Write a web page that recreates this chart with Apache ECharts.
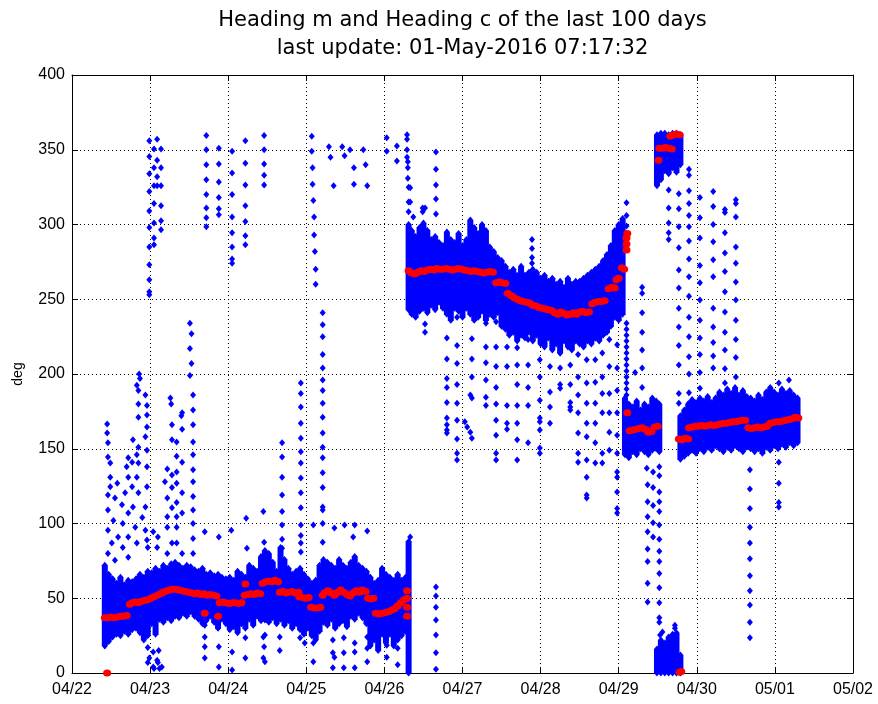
<!DOCTYPE html>
<html>
<head>
<meta charset="utf-8">
<script src="https://cdn.jsdelivr.net/npm/echarts@6/dist/echarts.min.js"></script>
<style>
  html, body { margin: 0; padding: 0; background: #fff; }
  #main { width: 878px; height: 704px; }
</style>
</head>
<body>
<div id="main"></div>
<script>
// Time axis: days since 04/22 00:00, one tick per day.
const tickLabels = ['04/22', '04/23', '04/24', '04/25', '04/26', '04/27', '04/28', '04/29', '04/30', '05/01', '05/02'];

// Heading m, dense stretches: for each time sample the lowest and highest reading (deg).
const mBandDay = [
  0.42, 0.47, 0.52, 0.57, 0.62, 0.67, 0.72, 0.77, 0.82, 0.87, 0.92, 0.97, 1.02, 1.07, 1.12, 1.17, 1.22, 1.27, 1.32, 1.37,
  1.42, 1.47, 1.52, 1.57, 1.62, 1.67, 1.72, 1.77, 1.82, 1.87, 1.92, 1.97, 2.02, 2.07, 2.12, 2.17, 2.22, 2.27, 2.32, 2.37,
  2.42, 2.47, 2.52, 2.57, 2.62, 2.67, 2.72, 2.77, 2.82, 2.87, 2.92, 2.97, 3.02, 3.07, 3.12, 3.17, 3.22, 3.27, 3.32, 3.37,
  3.42, 3.47, 3.52, 3.57, 3.62, 3.67, 3.72, 3.77, 3.82, 3.87, 3.92, 3.97, 4.02, 4.07, 4.12, 4.17, 4.22, 4.27, 4.31,
  4.31, 4.35, 4.40, 4.45, 4.50, 4.55, 4.60, 4.65, 4.70, 4.75, 4.80, 4.85, 4.90, 4.95, 5.00, 5.05, 5.10, 5.15, 5.20, 5.25,
  5.30, 5.35, 5.40, 5.45, 5.50, 5.55, 5.60, 5.65, 5.70, 5.75, 5.80, 5.85, 5.90, 5.95, 6.00, 6.05, 6.10, 6.15, 6.20, 6.25,
  6.30, 6.35, 6.40, 6.45, 6.50, 6.55, 6.60, 6.65, 6.70, 6.75, 6.80, 6.85, 6.90, 6.95, 7.00, 7.05,
  7.08, 7.13, 7.18, 7.23, 7.28, 7.33, 7.38, 7.43, 7.48, 7.52,
  7.49, 7.54, 7.59, 7.64, 7.69, 7.74, 7.79,
  7.49, 7.54, 7.59, 7.64, 7.69, 7.74, 7.79,
  7.79, 7.84, 7.89, 7.94, 7.99, 8.04, 8.09, 8.14, 8.19, 8.24, 8.29, 8.34, 8.39, 8.44, 8.49, 8.54, 8.59, 8.64, 8.69, 8.74,
  8.79, 8.84, 8.89, 8.94, 8.99, 9.04, 9.09, 9.14, 9.19, 9.24, 9.29
];
const mBandLo = [
  18, 21, 24, 26, 25, 28, 26, 29, 30, 27, 22, 25, 33, 26, 36, 34, 37, 35, 38, 37,
  40, 38, 41, 38, 36, 33, 35, 38, 34, 30, 36, 33, 29, 31, 27, 33, 30, 36, 32, 38,
  35, 38, 34, 37, 33, 36, 32, 35, 30, 33, 29, 26, 30, 25, 22, 28, 34, 32, 36, 30,
  33, 35, 31, 38, 36, 40, 37, 33, 18, 22, 15, 26, 20, 26, 18, 22, 25, 28, 0,
  243, 240, 238, 242, 244, 241, 246, 243, 248, 244, 240, 236, 244, 242, 238, 244, 240, 236, 238, 242,
  236, 240, 238, 241, 232, 230, 226, 228, 222, 226, 224, 228, 222, 226, 220, 218, 224, 216, 220, 214,
  222, 218, 216, 222, 220, 218, 222, 220, 224, 222, 226, 228, 232, 238, 236, 240,
  146, 144, 148, 146, 150, 148, 146, 149, 150, 148,
  326, 330, 336, 334, 338, 335, 340,
  0, 0, 0, 0, 0, 0, 0,
  143, 145, 147, 149, 147, 150, 148, 151, 149, 152, 150, 148, 151, 149, 152, 150, 148, 151, 150, 148,
  150, 147, 151, 149, 152, 150, 153, 151, 154, 152, 154
];
const mBandHi = [
  72, 66, 63, 60, 64, 59, 62, 61, 63, 66, 64, 68, 67, 70, 68, 72, 70, 73, 74, 72,
  70, 72, 71, 69, 68, 70, 66, 67, 65, 66, 64, 63, 64, 62, 68, 66, 64, 72, 70, 68,
  78, 82, 80, 74, 68, 84, 76, 70, 66, 68, 70, 66, 63, 60, 62, 72, 76, 74, 72, 70,
  76, 72, 70, 74, 78, 72, 70, 68, 64, 60, 62, 70, 66, 64, 62, 66, 62, 64, 88,
  300, 296, 292, 298, 301, 296, 290, 292, 288, 286, 295, 290, 288, 294, 286, 290, 303, 298, 294, 300,
  296, 285, 282, 278, 276, 272, 268, 270, 266, 272, 266, 268, 270, 268, 264, 266, 262, 264, 260, 262,
  258, 264, 260, 262, 262, 264, 266, 268, 270, 272, 276, 280, 286, 296, 300, 304,
  184, 180, 178, 182, 176, 180, 178, 184, 182, 180,
  360, 361, 361, 360, 361, 361, 360,
  16, 22, 20, 24, 26, 27, 12,
  172, 176, 180, 183, 181, 184, 182, 185, 181, 184, 188, 186, 190, 187, 191, 186, 189, 185, 184, 182,
  186, 183, 188, 191, 188, 186, 190, 187, 189, 186, 184
];

// Heading m, isolated readings [day, deg]: high readings of the first days.
const mHighEarly = [
  [0.99, 356], [0.99, 345.5], [0.99, 334], [0.99, 322], [0.99, 309], [0.99, 298], [0.99, 285], [0.99, 273], [0.99, 263], [0.99, 255], [0.99, 253],
  [1.05, 350.5], [1.05, 338], [1.05, 326], [1.05, 314], [1.05, 301], [1.05, 291], [1.05, 286.5],
  [1.09, 357], [1.09, 343], [1.09, 332], [1.09, 326],
  [1.14, 350.5], [1.14, 338], [1.14, 326], [1.14, 312.5], [1.14, 302.5], [1.14, 296.5],
  [1.72, 359.5], [1.72, 350], [1.72, 340], [1.72, 330], [1.72, 320], [1.72, 311], [1.72, 304.5], [1.72, 298.5],
  [1.88, 351], [1.88, 340.5], [1.88, 328.5], [1.88, 318], [1.88, 310.5], [1.88, 306.5],
  [2.05, 349], [2.05, 334.5], [2.05, 320], [2.05, 305], [2.05, 294.5], [2.05, 285], [2.05, 277], [2.05, 274],
  [2.22, 356], [2.22, 341], [2.22, 326.5], [2.22, 312.5], [2.22, 302], [2.22, 292.5], [2.22, 286.5],
  [2.46, 359.5], [2.46, 350], [2.46, 340.5], [2.46, 333], [2.46, 326.5]
];

// Heading m, scattered readings between 75 and 240 deg in the first days.
const mSpreadEarly = [
  [0.86, 200], [0.87, 197], [0.83, 192.5], [0.85, 189], [0.94, 186], [0.85, 180], [0.96, 179], [0.85, 171], [0.96, 172.5],
  [0.45, 166.5], [0.96, 164.5], [0.45, 160.5], [0.78, 156], [0.94, 158], [0.46, 154], [0.85, 151], [0.96, 149],
  [0.72, 144], [0.77, 141], [0.83, 146], [0.46, 144.5], [0.49, 140.5], [0.70, 138], [0.85, 140.5], [0.96, 138],
  [0.49, 131], [0.72, 131], [0.83, 131], [0.58, 127], [0.49, 124.5], [0.77, 124.5], [0.96, 124.5], [0.46, 119],
  [0.55, 117], [0.68, 120.5], [0.85, 120.5], [0.64, 112.5], [0.78, 111], [0.94, 111], [0.46, 109], [0.72, 107],
  [0.90, 104], [0.53, 102], [0.65, 100], [0.81, 97.5], [0.46, 95.5], [0.59, 91], [0.72, 91], [0.94, 95.5],
  [0.51, 87], [0.65, 84], [0.83, 87], [0.96, 89], [0.46, 80], [0.72, 77.5], [0.55, 75.5],
  [1.04, 94.5], [1.10, 91], [0.97, 84], [1.09, 84], [1.26, 184], [1.27, 180], [1.41, 174], [1.40, 172],
  [1.28, 166], [1.41, 163], [1.28, 156], [1.34, 154.5], [1.34, 145], [1.41, 141], [1.22, 136.5], [1.28, 132.5],
  [1.34, 134.5], [1.19, 128], [1.34, 127], [1.28, 124], [1.41, 120.5], [1.22, 117], [1.34, 114], [1.28, 110.5],
  [1.22, 104.5], [1.34, 104.5], [1.41, 107], [1.22, 97.5], [1.34, 97.5], [1.28, 87], [1.34, 87], [1.22, 80], [1.41, 80],
  [1.51, 234], [1.53, 227], [1.51, 217], [1.53, 207], [1.51, 199],
  [1.55, 186], [1.55, 176], [1.55, 166], [1.55, 154.5], [1.55, 146], [1.55, 136], [1.55, 128], [1.55, 118],
  [1.55, 109], [1.55, 100], [1.55, 90], [1.55, 80],
  [1.70, 94.5], [1.88, 91], [2.04, 95.5], [2.23, 103.5], [2.24, 83.5], [2.45, 108], [2.46, 87.5],
  [2.69, 154], [2.69, 144.5], [2.69, 131], [2.69, 119], [2.69, 108], [2.69, 99], [2.69, 89.5], [2.69, 83.5],
  [2.93, 194], [2.93, 187], [2.93, 178], [2.93, 167], [2.93, 157], [2.93, 148], [2.93, 140.5], [2.93, 130.5],
  [2.93, 120.5], [2.93, 110.5], [2.93, 99], [2.93, 92], [2.93, 87], [2.93, 81],
  [3.21, 241], [3.21, 233], [3.21, 225], [3.21, 213], [3.21, 204],
  [3.21, 196], [3.21, 189], [3.21, 180.5], [3.21, 171], [3.21, 160.5], [3.21, 151], [3.21, 144], [3.21, 134],
  [3.21, 124], [3.21, 111], [3.21, 109], [3.21, 100], [3.21, 87.5],
  [3.09, 99], [3.36, 97], [3.49, 99], [3.62, 99], [3.78, 95], [3.60, 91], [4.33, 91]
];

// Heading m, high readings from 04/25 to 04/26.
const mHighMid = [
  [3.07, 359], [3.07, 349], [3.08, 338], [3.08, 327], [3.09, 316], [3.10, 305], [3.10, 293], [3.11, 282], [3.12, 270], [3.12, 260],
  [3.29, 352], [3.31, 345], [3.35, 326], [3.46, 352], [3.49, 346], [3.56, 350], [3.61, 338], [3.61, 327],
  [3.73, 350], [3.76, 340], [3.78, 326], [4.03, 358], [4.03, 349], [4.16, 352.5], [4.16, 342.5]
];

// Heading m, readings near 0 deg.
const mLow = [
  [0.97, 17], [1.04, 14], [1.11, 15], [0.99, 10], [1.09, 8.5], [1.04, 4], [1.15, 4], [0.97, 7], [1.10, 7], [1.05, 3], [1.12, 3],
  [1.70, 32], [1.70, 24], [1.70, 17.5], [1.70, 10], [1.88, 17.5], [1.88, 4], [2.05, 14], [2.05, 2],
  [2.22, 23.5], [2.22, 10], [2.45, 24], [2.45, 10], [2.46, 17.5], [2.47, 7.5], [2.47, 35.5], [2.47, 25.5],
  [2.66, 24], [2.66, 15], [2.92, 23.5], [2.98, 20], [3.09, 20], [3.09, 7.5],
  [3.34, 22], [3.34, 13.5], [3.34, 3.5], [3.36, 10.5], [3.48, 23.5], [3.48, 13.5], [3.48, 3.5],
  [3.62, 20], [3.62, 14], [3.62, 3.5], [3.78, 24], [3.78, 16.5], [3.78, 7.5],
  [4.03, 18.5], [4.03, 10.5], [4.17, 16.5], [4.17, 5.5],
  [4.66, 57.5], [4.66, 51.5], [4.66, 44], [4.66, 35.5], [4.66, 25.5], [4.66, 13.5], [4.66, 2.5]
];

// Heading m, readings around the 270 deg stretch (04/26 - 04/29).
const mAround270 = [
  [4.29, 360], [4.29, 357], [4.29, 350], [4.29, 345], [4.30, 342], [4.30, 338], [4.30, 331], [4.31, 325], [4.31, 315], [4.31, 308.5],
  [4.33, 324.5], [4.33, 315], [4.37, 305], [4.49, 311], [4.49, 308.5], [4.52, 311],
  [4.66, 348.5], [4.66, 337], [4.66, 326.5], [4.66, 317], [4.66, 307],
  [4.52, 233.5], [4.52, 228],
  [4.80, 224], [4.80, 210], [4.80, 197], [4.80, 191], [4.80, 181], [4.80, 170.5], [4.80, 166], [4.80, 162.5], [4.80, 160.5],
  [4.93, 238], [4.93, 219], [4.93, 207], [4.93, 193], [4.93, 180.5], [4.93, 169], [4.93, 156.5], [4.93, 147], [4.93, 142.5],
  [5.03, 168], [5.06, 164.5], [5.10, 161], [5.10, 186], [5.12, 184], [5.12, 223.5], [5.12, 210], [5.12, 198], [5.12, 157],
  [5.30, 234], [5.30, 218], [5.30, 207.5], [5.30, 196], [5.30, 184.5], [5.30, 179],
  [5.43, 235], [5.43, 218], [5.43, 205], [5.43, 191], [5.43, 180], [5.43, 169], [5.43, 159], [5.43, 147], [5.43, 142.5],
  [5.57, 218], [5.57, 205], [5.57, 179], [5.57, 167], [5.57, 163],
  [5.70, 217.5], [5.70, 206], [5.70, 193], [5.70, 179], [5.70, 167], [5.70, 156], [5.70, 142.5],
  [5.84, 223], [5.84, 206], [5.84, 191], [5.84, 179], [5.84, 154],
  [5.89, 290], [5.89, 284], [5.89, 278], [5.89, 274],
  [5.99, 209.5], [5.99, 198], [5.99, 182.5], [5.99, 170.5], [5.99, 168], [5.99, 162.5], [5.99, 150.5], [5.99, 147],
  [6.12, 205], [6.12, 188], [6.12, 178], [6.12, 167],
  [6.25, 214], [6.25, 204], [6.25, 193], [6.25, 190.5],
  [6.38, 206], [6.38, 193], [6.38, 181], [6.38, 178], [6.38, 176],
  [6.48, 213], [6.48, 198], [6.48, 186], [6.48, 174], [6.48, 160.5], [6.48, 147], [6.48, 141],
  [6.59, 209.5], [6.59, 194], [6.59, 180.5], [6.59, 167], [6.59, 158], [6.59, 142.5], [6.59, 131], [6.59, 119], [6.59, 117],
  [6.70, 224], [6.70, 209.5], [6.70, 194.5], [6.70, 180.5], [6.70, 167], [6.70, 154], [6.70, 140.5],
  [6.79, 227.5], [6.79, 214], [6.79, 198], [6.79, 187], [6.79, 174], [6.79, 147], [6.79, 140.5],
  [6.88, 236], [6.88, 223], [6.88, 205], [6.88, 187], [6.88, 174], [6.88, 161], [6.88, 149],
  [6.98, 219.5], [6.98, 204], [6.98, 189], [6.98, 174], [6.98, 159], [6.98, 147], [6.98, 134.5], [6.98, 131],
  [6.98, 121], [6.98, 110], [6.98, 107],
  [7.10, 314.5], [7.10, 306], [7.10, 299],
  [7.10, 234], [7.10, 230], [7.10, 226], [7.10, 222], [7.10, 218], [7.10, 214], [7.10, 210], [7.10, 206],
  [7.10, 202], [7.10, 198], [7.10, 194], [7.10, 190], [7.10, 186]
];

// Heading m, readings from 04/29 afternoon to 05/01.
const mLate = [
  [7.30, 258], [7.30, 254], [7.30, 241], [7.30, 228], [7.30, 216], [7.30, 204], [7.30, 191], [7.21, 201],
  [7.37, 126], [7.37, 114.5], [7.37, 104.5], [7.37, 94.5], [7.37, 83], [7.37, 74.5], [7.37, 60], [7.37, 47.5],
  [7.44, 124], [7.44, 112], [7.44, 100.5], [7.44, 91],
  [7.52, 121], [7.52, 114.5], [7.52, 108], [7.52, 99], [7.52, 89.5], [7.52, 81.5], [7.52, 74.5], [7.52, 66.5],
  [7.52, 57], [7.52, 47], [7.52, 37], [7.52, 34], [7.53, 25.5], [7.56, 27.5], [7.72, 32], [7.72, 30],
  [7.36, 137], [7.44, 134.5], [7.52, 138], [7.52, 132],
  [7.64, 323], [7.64, 311], [7.64, 301], [7.64, 294.5], [7.64, 290],
  [7.77, 320.5], [7.77, 310.5], [7.77, 298.5], [7.77, 284.5], [7.77, 269.5], [7.77, 257.5], [7.77, 244], [7.77, 231.5],
  [7.77, 219], [7.77, 206], [7.77, 187], [7.77, 180.5],
  [7.90, 337], [7.90, 333], [7.90, 322.5], [7.90, 314], [7.90, 306], [7.90, 298.5], [7.90, 289], [7.90, 277],
  [7.90, 265], [7.90, 252], [7.90, 238], [7.90, 225], [7.90, 211.5], [7.90, 200], [7.90, 187.5], [7.90, 180.5],
  [8.04, 318], [8.04, 304.5], [8.04, 291], [8.04, 272.5], [8.04, 261], [8.04, 249.5], [8.04, 236], [8.04, 224],
  [8.04, 213], [8.04, 201], [8.04, 190.5],
  [8.21, 322], [8.21, 312], [8.21, 300], [8.21, 288.5], [8.21, 276.5], [8.21, 265], [8.21, 244], [8.21, 231.5],
  [8.21, 221], [8.21, 212], [8.21, 204],
  [8.36, 310], [8.36, 308], [8.36, 294.5], [8.36, 281], [8.36, 268.5], [8.36, 255], [8.36, 241.5], [8.36, 228],
  [8.36, 216], [8.36, 203.5], [8.36, 194],
  [8.50, 316.5], [8.50, 314], [8.50, 305], [8.50, 285], [8.50, 274], [8.50, 261.5], [8.50, 249.5], [8.50, 236],
  [8.50, 223], [8.50, 211], [8.50, 198],
  [8.68, 136], [8.68, 123], [8.68, 110], [8.68, 97.5], [8.68, 87], [8.68, 76.5], [8.68, 65], [8.68, 55],
  [8.68, 45.5], [8.68, 34], [8.68, 23.5],
  [9.05, 194], [9.05, 184.5], [9.18, 196], [9.05, 141], [9.05, 127], [9.05, 114], [9.05, 111]
];

// Heading c readings [day, deg].
const cFirstDays = [
  [0.45, 0],
  [0.42, 37], [0.46, 37], [0.50, 37.5], [0.54, 37], [0.58, 37.5], [0.62, 38], [0.66, 38], [0.70, 38.5],
  [0.74, 46], [0.77, 47], [0.81, 47.5], [0.85, 47], [0.89, 48], [0.93, 48.5], [0.97, 49],
  [1.01, 50], [1.05, 51], [1.09, 52], [1.13, 53], [1.17, 54], [1.21, 55], [1.25, 55.5], [1.29, 56],
  [1.33, 56], [1.37, 55.5], [1.41, 55], [1.45, 54.5], [1.49, 54], [1.53, 53.5], [1.57, 53], [1.61, 53.5],
  [1.65, 52.5], [1.69, 53], [1.73, 52], [1.77, 52.5], [1.81, 52], [1.85, 51.5],
  [1.89, 47], [1.93, 47.5], [1.97, 47], [2.01, 46.5], [2.05, 47], [2.09, 47], [2.13, 46.5], [2.17, 47],
  [1.70, 40], [1.87, 38], [2.22, 59.5],
  [2.21, 52], [2.25, 52.5], [2.29, 53], [2.33, 52.5], [2.37, 53.5], [2.41, 53],
  [2.44, 60], [2.48, 61], [2.52, 61.5], [2.56, 61], [2.60, 62], [2.64, 61],
  [2.66, 54], [2.70, 54.5], [2.74, 53.5], [2.78, 54], [2.82, 54.5], [2.86, 53.5], [2.90, 54],
  [2.91, 51], [2.95, 50.5], [2.99, 50], [3.03, 50.5],
  [3.06, 44], [3.10, 43.5], [3.14, 43.5], [3.18, 44],
  [3.21, 52], [3.24, 54], [3.28, 55], [3.32, 53.5], [3.36, 52], [3.40, 54], [3.44, 55.5], [3.48, 54],
  [3.52, 52.5], [3.56, 51.5], [3.60, 53.5], [3.64, 55], [3.68, 54], [3.72, 55.5], [3.76, 54.5],
  [3.79, 50], [3.83, 49.5], [3.86, 50],
  [3.89, 40], [3.93, 39.5], [3.97, 40], [4.01, 40.5],
  [4.05, 41], [4.09, 42], [4.13, 43], [4.17, 45], [4.21, 47], [4.25, 49],
  [4.29, 38], [4.29, 44], [4.29, 50], [4.29, 55]
];
const cMiddle = [
  [4.31, 269], [4.35, 267.5], [4.39, 267], [4.43, 268], [4.47, 269], [4.51, 268.5],
  [4.55, 269.5], [4.59, 270], [4.63, 269.5], [4.67, 270.5], [4.71, 270], [4.75, 270], [4.79, 270.5],
  [4.83, 270], [4.87, 269.5], [4.91, 270], [4.95, 270.5], [4.99, 270], [5.03, 269.5],
  [5.07, 269], [5.11, 268.5], [5.15, 269], [5.19, 268.5], [5.23, 268], [5.27, 267.5], [5.31, 268], [5.35, 268.5], [5.39, 268],
  [5.43, 261], [5.47, 261.5], [5.51, 261], [5.55, 260.5],
  [5.58, 254], [5.62, 252.5], [5.66, 251], [5.70, 250], [5.74, 249], [5.78, 248.5], [5.82, 248], [5.86, 247.5],
  [5.90, 246], [5.94, 245.5], [5.98, 244.5], [6.02, 244], [6.06, 243.5], [6.10, 243], [6.14, 242.5],
  [6.18, 241], [6.22, 240], [6.26, 241.5], [6.30, 240.5], [6.34, 239.5], [6.38, 240], [6.42, 241], [6.46, 240],
  [6.50, 241.5], [6.54, 242], [6.58, 241], [6.62, 241.5],
  [6.66, 247], [6.70, 248], [6.74, 248.5], [6.78, 248.5], [6.82, 249],
  [6.87, 257], [6.91, 258], [6.95, 257.5], [6.97, 263], [7.00, 264], [7.04, 271], [7.07, 270],
  [7.10, 283], [7.10, 287], [7.10, 291], [7.11, 294]
];
const cLastDays = [
  [7.11, 174], [7.14, 162], [7.18, 162.5], [7.22, 163], [7.26, 163.5], [7.30, 164], [7.34, 163],
  [7.38, 161], [7.42, 161.5], [7.46, 164.5], [7.50, 165],
  [7.51, 343], [7.52, 351], [7.56, 351], [7.60, 351.5], [7.64, 351], [7.68, 350.5],
  [7.66, 359], [7.70, 360], [7.74, 360.5], [7.78, 360],
  [7.78, 0.5], [7.80, 1],
  [7.77, 156.5], [7.81, 156], [7.85, 157], [7.89, 156.5],
  [7.90, 164], [7.94, 164.5], [7.98, 165], [8.02, 165], [8.06, 165.5], [8.10, 165], [8.14, 165.5], [8.18, 166],
  [8.22, 165.5], [8.26, 166], [8.30, 166.5], [8.34, 167], [8.38, 167], [8.42, 167.5], [8.46, 168], [8.50, 168],
  [8.54, 168.5], [8.58, 169], [8.62, 169],
  [8.66, 164], [8.70, 163.5], [8.74, 164], [8.78, 164.5], [8.82, 164], [8.86, 164.5], [8.90, 165],
  [8.94, 167], [8.98, 167.5], [9.02, 168], [9.06, 168], [9.10, 168.5], [9.14, 169], [9.18, 169.5],
  [9.22, 170], [9.26, 171], [9.30, 170.5]
];

const BLUE = '#0000ff';
const RED = '#ff0000';
const FONT = 'Liberation Sans, Arial, sans-serif';

const bandData = mBandDay.map((d, i) => [d, mBandLo[i], mBandHi[i]]);
const mPoints = [].concat(mHighEarly, mSpreadEarly, mHighMid, mLow, mAround270, mLate);
const cPoints = [].concat(cFirstDays, cMiddle, cLastDays);

// Each dense column is drawn as a stretched diamond spanning lo..hi.
function renderColumn(params, api) {
  const lo = api.coord([api.value(0), api.value(1)]);
  const hi = api.coord([api.value(0), api.value(2)]);
  const x = lo[0], hw = 3, tip = 3.5;
  return {
    type: 'polygon',
    shape: {
      points: [
        [x, hi[1] - tip], [x + hw, hi[1]], [x + hw, lo[1]],
        [x, lo[1] + tip], [x - hw, lo[1]], [x - hw, hi[1]]
      ]
    },
    style: { fill: BLUE, stroke: null }
  };
}

const axisLineStyle = { color: '#000', width: 1 };
const gridLineStyle = { color: '#000', width: 1, type: [1, 3] };

const option = {
  animation: false,
  backgroundColor: '#ffffff',
  grid: { left: 72, right: 25, top: 75, bottom: 31 },
  graphic: [
    {
      type: 'text', x: 462.5, y: 21,
      style: { text: 'Heading m and Heading c of the last 100 days', fontSize: 21, fontFamily: 'DejaVu Sans', fill: '#000', align: 'center', verticalAlign: 'middle' }
    },
    {
      type: 'text', x: 462.5, y: 49,
      style: { text: 'last update: 01-May-2016 07:17:32', fontSize: 21, fontFamily: 'DejaVu Sans', fill: '#000', align: 'center', verticalAlign: 'middle' }
    }
  ],
  xAxis: [
    {
      type: 'value', min: 0, max: 10, interval: 1, position: 'bottom',
      axisLine: { show: true, onZero: false, lineStyle: axisLineStyle },
      axisTick: { show: true, inside: true, length: 6, lineStyle: axisLineStyle },
      axisLabel: {
        show: true, showMinLabel: true, showMaxLabel: true, margin: 9,
        fontSize: 16, fontFamily: FONT, color: '#000',
        formatter: v => tickLabels[Math.round(v)]
      },
      splitLine: { show: true, lineStyle: gridLineStyle }
    },
    {
      type: 'value', min: 0, max: 10, interval: 1, position: 'top',
      axisLine: { show: true, onZero: false, lineStyle: axisLineStyle },
      axisTick: { show: true, inside: true, length: 6, lineStyle: axisLineStyle },
      axisLabel: { show: false },
      splitLine: { show: false }
    }
  ],
  yAxis: [
    {
      type: 'value', min: 0, max: 400, interval: 50, position: 'left',
      name: 'deg', nameLocation: 'middle', nameGap: 47, nameRotate: 90,
      nameTextStyle: { fontSize: 14, fontFamily: FONT, color: '#000' },
      axisLine: { show: true, onZero: false, lineStyle: axisLineStyle },
      axisTick: { show: true, inside: true, length: 6, lineStyle: axisLineStyle },
      axisLabel: { show: true, showMinLabel: true, showMaxLabel: true, margin: 7, fontSize: 16, fontFamily: FONT, color: '#000' },
      splitLine: { show: true, lineStyle: gridLineStyle }
    },
    {
      type: 'value', min: 0, max: 400, interval: 50, position: 'right',
      axisLine: { show: true, onZero: false, lineStyle: axisLineStyle },
      axisTick: { show: true, inside: true, length: 6, lineStyle: axisLineStyle },
      axisLabel: { show: false },
      splitLine: { show: false }
    }
  ],
  series: [
    {
      name: 'Heading m', type: 'custom', coordinateSystem: 'cartesian2d',
      xAxisIndex: 0, yAxisIndex: 0, clip: false, z: 2,
      renderItem: renderColumn,
      encode: { x: 0, y: [1, 2] },
      data: bandData
    },
    {
      name: 'Heading m', type: 'scatter', xAxisIndex: 0, yAxisIndex: 0, clip: false, z: 3,
      symbol: 'diamond', symbolSize: [6, 7],
      itemStyle: { color: BLUE, opacity: 1 },
      data: mPoints
    },
    {
      name: 'Heading c', type: 'scatter', xAxisIndex: 0, yAxisIndex: 0, clip: false, z: 4,
      symbol: 'circle', symbolSize: [8, 7],
      itemStyle: { color: RED, opacity: 1 },
      data: cPoints
    }
  ]
};

const chart = echarts.init(document.getElementById('main'), null, { renderer: 'canvas' });
chart.setOption(option);
</script>
</body>
</html>
